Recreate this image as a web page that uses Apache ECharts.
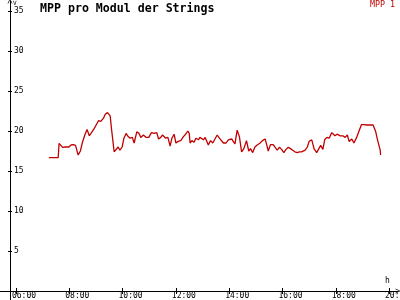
<!DOCTYPE html>
<html>
<head>
<meta charset="utf-8">
<script src="https://cdn.jsdelivr.net/npm/echarts@6/dist/echarts.min.js"></script>
<style>html,body{margin:0;padding:0;background:#fff}#c{width:400px;height:300px}</style>
</head>
<body>
<div id="c"></div>
<script>
var times = ["7:14","7:35","7:37","7:41","7:45","7:50","7:54","7:59","8:04","8:09",
"8:14","8:20","8:25","8:29","8:35","8:40","8:45","8:50","8:56","9:02",
"9:06","9:11","9:17","9:21","9:26","9:32","9:35","9:41","9:45","9:50",
"9:54","9:59","10:03","10:08","10:11","10:17","10:22","10:26","10:32","10:37",
"10:41","10:47","10:53","10:59","11:05","11:11","11:17","11:21","11:26","11:30",
"11:37","11:42","11:47","11:51","11:56","12:00","12:05","12:11","12:17","12:22",
"12:27","12:30","12:32","12:36","12:41","12:45","12:51",
"12:54","12:58","13:02","13:06","13:13","13:18","13:23","13:28","13:33","13:38",
"13:42","13:47","13:53","13:58","14:06","14:09","14:13","14:18","14:23","14:28",
"14:33","14:39","14:44","14:48","14:53","14:58","15:03","15:09","15:15","15:21",
"15:24","15:28","15:33","15:39","15:43","15:48","15:53","15:58","16:03","16:08",
"16:13","16:18","16:23","16:28","16:33","16:38","16:43","16:47","16:51","16:56",
"17:00","17:06","17:11","17:17","17:22","17:26","17:31","17:35","17:40","17:45",
"17:51","17:54","17:58","18:03","18:10","18:16","18:21","18:26","18:30","18:36",
"18:41","18:47","18:53","18:58","19:03","19:10","19:17","19:24","19:30","19:34",
"19:40","19:41"];
var mpp1 = [16.66,16.66,18.46,18.7,17.96,18.0,18.2,18.0,18.25,18.3,
18.2,17.0,17.5,18.46,19.5,20.2,19.4,19.8,20.3,20.9,
21.3,21.2,21.6,22.1,22.3,21.9,20.3,17.4,17.5,18.0,
17.6,18.0,19.1,19.7,19.4,19.1,19.2,18.5,19.9,19.7,
19.2,19.5,19.2,19.2,19.8,19.7,19.8,19.0,19.2,19.5,
19.1,19.2,18.1,19.1,19.6,18.5,18.7,18.8,19.3,19.6,
20.0,19.7,18.5,18.8,18.6,19.1,18.9,
19.2,19.4,18.9,19.2,18.25,18.8,18.5,19.0,19.5,19.1,
19.2,18.5,18.5,18.9,19.0,18.7,18.4,20.1,19.3,17.4,
17.8,18.8,17.5,17.8,17.3,18.0,18.25,18.46,18.8,19.0,
18.4,17.5,18.3,18.3,18.0,17.6,17.96,17.7,17.3,17.7,
17.96,17.8,17.6,17.4,17.3,17.4,17.4,17.2,17.6,18.0,
18.7,18.9,17.8,17.3,17.8,18.2,17.7,18.9,19.2,19.1,
19.8,19.6,19.4,19.6,19.4,19.4,19.2,19.5,18.7,19.0,
18.5,19.2,20.1,20.8,20.8,20.75,20.75,20.75,19.9,18.9,
17.6,17.0];
var xTicks = [6,8,10,12,14,16,18,20];
var yTicks = [5,10,15,20,25,30,35];
var seriesName = "MPP 1";
var titleText = "MPP pro Modul der Strings";

function toHours(t){var p=t.split(":");return +p[0]+(+p[1])/60;}
var data = times.map(function(t,i){return [toHours(t), mpp1[i]];});
var FONT = "DejaVu Sans Mono";
var arrowPath = 'path://M0,10 L5,0 L10,10 L8.6,10 L5,2.8 L1.4,10 Z';
function hh(v){return (v<10?'0':'')+v+':00';}

var chart = echarts.init(document.getElementById('c'), null, {renderer:'canvas'});
chart.setOption({
  animation:false,
  backgroundColor:'#ffffff',
  title:{text:titleText,left:40,top:3,padding:0,textStyle:{fontFamily:FONT,fontWeight:'bold',fontSize:11.6,color:'#000'}},
  legend:{right:5,top:0,padding:0,icon:'none',itemWidth:0,itemHeight:10,itemGap:0,
    textStyle:{fontFamily:FONT,fontSize:8.3,color:'#c00000'},data:[seriesName]},
  grid:[
    {left:0,right:2,top:1,bottom:9,containLabel:false,outerBoundsMode:'none'},
    {left:0,right:2,top:291,bottom:0,containLabel:false,outerBoundsMode:'none'}
  ],
  xAxis:[{
    type:'value',gridIndex:0,position:'bottom',min:5.4,max:20.335,
    axisLine:{show:true,onZero:false,symbol:['none',arrowPath],symbolSize:[7,5],lineStyle:{color:'#000',width:1}},
    axisTick:{show:true,inside:false,length:3,customValues:xTicks,lineStyle:{color:'#000'}},
    axisLabel:{show:true,customValues:xTicks,formatter:hh,margin:1,padding:[0,0,0,16],
      fontFamily:FONT,fontSize:8,color:'#000'},
    splitLine:{show:false}
  },{
    type:'value',gridIndex:0,position:'bottom',min:5.4,max:20.335,
    axisLine:{show:false,onZero:false},
    axisTick:{show:true,inside:true,length:3,customValues:xTicks,lineStyle:{color:'#000'}},
    axisLabel:{show:false},splitLine:{show:false}
  },{
    type:'value',gridIndex:1,show:false,min:0,max:1
  }],
  yAxis:[{
    type:'value',gridIndex:0,position:'left',offset:-10,min:0,max:36.25,
    axisLine:{show:true,onZero:false,symbol:['none',arrowPath],symbolSize:[7,5],lineStyle:{color:'#000',width:1}},
    axisTick:{show:true,inside:false,length:2,customValues:yTicks,lineStyle:{color:'#000'}},
    axisLabel:{show:true,inside:true,margin:4,customValues:yTicks,fontFamily:FONT,fontSize:8,color:'#000'},
    splitLine:{show:false}
  },{
    type:'value',gridIndex:0,position:'left',offset:-10,min:0,max:36.25,
    axisLine:{show:false,onZero:false},
    axisTick:{show:true,inside:true,length:2,customValues:yTicks,lineStyle:{color:'#000'}},
    axisLabel:{show:false},splitLine:{show:false}
  },{
    type:'value',gridIndex:1,position:'left',offset:-10,min:0,max:1,
    axisLine:{show:true,onZero:false,lineStyle:{color:'#000',width:1}},
    axisTick:{show:false},axisLabel:{show:false},splitLine:{show:false}
  }],
  graphic:[
    {type:'text',left:13,top:0,style:{text:'V',fontFamily:FONT,fontSize:6,fill:'#000'}},
    {type:'text',left:385,top:277,style:{text:'h',fontFamily:FONT,fontSize:8,fill:'#000'}}
  ],
  series:[{
    name:seriesName,type:'line',xAxisIndex:0,yAxisIndex:0,data:data,
    showSymbol:false,symbol:'none',
    lineStyle:{color:'#c00000',width:1.3},itemStyle:{color:'#c00000'}
  }]
});
</script>
</body>
</html>
